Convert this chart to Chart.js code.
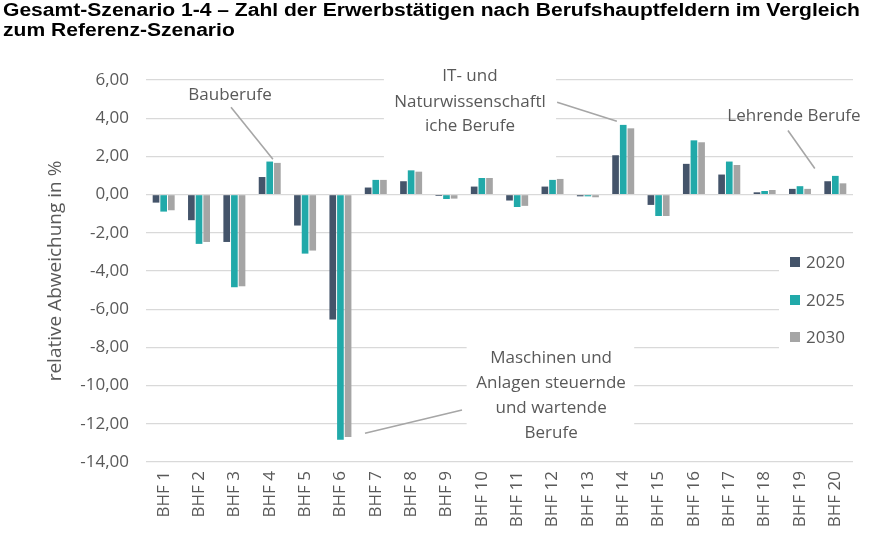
<!DOCTYPE html>
<html>
<head>
<meta charset="utf-8">
<script src="https://cdn.jsdelivr.net/npm/chart.js@4"></script>
<style>
  html, body { margin: 0; padding: 0; background: #fff; }
  #wrap { position: relative; width: 871px; height: 540px; overflow: hidden; }
  #title { position: absolute; left: 3px; top: 0px; font-family: "Liberation Sans", Arial, sans-serif; font-weight: bold; font-size: 18px; line-height: 20px; color: #000; white-space: nowrap; transform-origin: 0 0; z-index: 2; }
  canvas { position: absolute; left: 0; top: 0; }
</style>
</head>
<body>
<div id="wrap">
  <div id="title"><span id="t1">Gesamt-Szenario 1-4 – Zahl der Erwerbstätigen nach Berufshauptfeldern im Vergleich</span><br><span>zum Referenz-Szenario</span></div>
  <canvas id="c" width="871" height="540"></canvas>
</div>
<script>
// ---- data ----
const categories = ['BHF 1','BHF 2','BHF 3','BHF 4','BHF 5','BHF 6','BHF 7','BHF 8','BHF 9','BHF 10',
                    'BHF 11','BHF 12','BHF 13','BHF 14','BHF 15','BHF 16','BHF 17','BHF 18','BHF 19','BHF 20'];
const seriesNames = ['2020', '2025', '2030'];
const values2020 = [-0.42,-1.34,-2.48,0.92,-1.62,-6.54,0.37,0.70,-0.07,0.42,-0.31,0.42,-0.09,2.06,-0.54,1.61,1.05,0.12,0.30,0.70];
const values2025 = [-0.89,-2.58,-4.85,1.73,-3.09,-12.84,0.77,1.27,-0.23,0.87,-0.65,0.77,-0.09,3.65,-1.12,2.84,1.73,0.19,0.44,0.98];
const values2030 = [-0.82,-2.48,-4.80,1.66,-2.93,-12.69,0.77,1.20,-0.21,0.87,-0.59,0.82,-0.14,3.47,-1.12,2.74,1.55,0.24,0.30,0.59];
const yMin = -14, yMax = 6, yStep = 2;
const yAxisTitle = 'relative Abweichung in %';
const annotationTexts = [
  ['Bauberufe'],
  ['IT- und', 'Naturwissenschaftl', 'iche Berufe'],
  ['Lehrende Berufe'],
  ['Maschinen und', 'Anlagen steuernde', 'und wartende', 'Berufe']
];

// title fit
(function(){
  const t = document.getElementById('title');
  const w = document.getElementById('t1').getBoundingClientRect().width;
  t.style.transform = 'scaleX(' + (857 / w) + ')';
})();

const colors = ['#44546A', '#21A9A9', '#A5A5A5'];
const textColor = '#595959';
const FONT = '"Open Sans", "Noto Sans", sans-serif';

// annotation layout (category index / value space)
const annotations = [
  { lines: annotationTexts[0], cx: 1.876, cy: [5.2], from: [1.905, 4.57], to: [3.09, 1.85], size: 17 },
  { lines: annotationTexts[1], cx: 8.665, cy: [6.19, 4.83, 3.57], from: [11.13, 4.83], to: [12.82, 3.84], size: 17,
    mask: [6.23, 11.1, 7.2, 1.7] },
  { lines: annotationTexts[2], cx: 17.83, cy: [4.09], from: [17.66, 3.36], to: [18.42, 1.37], size: 17,
    mask: [16.65, 19.6, 4.7, 3.45] },
  { lines: annotationTexts[3], cx: 10.96, cy: [-8.57, -9.88, -11.18, -12.49], from: [8.44, -11.28], to: [5.695, -12.49], size: 17,
    mask: [8.57, 13.31, -7.6, -13.2] }
];

const overlayPlugin = {
  id: 'overlay',
  beforeDatasetsDraw(chart) {
    const ctx = chart.ctx, xs = chart.scales.x, ys = chart.scales.y, ca = chart.chartArea;
    ctx.save();
    ctx.fillStyle = '#fff';
    annotations.forEach(a => {
      if (!a.mask) return;
      const x1 = xs.getPixelForValue(a.mask[0]), x2 = xs.getPixelForValue(a.mask[1]);
      const y1 = ys.getPixelForValue(a.mask[2]), y2 = ys.getPixelForValue(a.mask[3]);
      ctx.fillRect(x1, y1, x2 - x1, y2 - y1);
    });
    // legend box mask
    ctx.fillRect(ca.right - 74, ca.top + 165, 80, 110);
    ctx.restore();
  },
  afterDatasetsDraw(chart) {
    const ctx = chart.ctx, xs = chart.scales.x, ys = chart.scales.y, ca = chart.chartArea;
    ctx.save();
    ctx.strokeStyle = '#A6A6A6';
    ctx.lineWidth = 1.6;
    annotations.forEach(a => {
      ctx.beginPath();
      ctx.moveTo(xs.getPixelForValue(a.from[0]), ys.getPixelForValue(a.from[1]));
      ctx.lineTo(xs.getPixelForValue(a.to[0]), ys.getPixelForValue(a.to[1]));
      ctx.stroke();
    });
    ctx.fillStyle = textColor;
    ctx.textAlign = 'center';
    ctx.textBaseline = 'middle';
    annotations.forEach(a => {
      ctx.font = a.size + 'px ' + FONT;
      a.lines.forEach((l, i) => {
        ctx.fillText(l, xs.getPixelForValue(a.cx), ys.getPixelForValue(a.cy[i]));
      });
    });
    // legend
    ctx.textAlign = 'left';
    ctx.font = '17px ' + FONT;
    const lx = ca.right - 63;
    const rows = [182, 220, 257];
    seriesNames.forEach((n, i) => {
      const yy = ca.top + rows[i];
      ctx.fillStyle = colors[i];
      ctx.fillRect(lx, yy - 5, 10, 10);
      ctx.fillStyle = textColor;
      ctx.fillText(n, lx + 16, yy + 1);
    });
    ctx.restore();
  }
};

const fmt = v => v.toFixed(2).replace('.', ',');

new Chart(document.getElementById('c'), {
  type: 'bar',
  data: {
    labels: categories,
    datasets: [values2020, values2025, values2030].map((d, i) => ({
      label: seriesNames[i],
      data: d,
      backgroundColor: colors[i],
      borderWidth: 0,
      categoryPercentage: 0.65,
      barPercentage: 0.87
    }))
  },
  options: {
    responsive: false,
    animation: false,
    devicePixelRatio: 1,
    layout: { padding: { left: 38, top: 80, right: 18, bottom: 0 } },
    plugins: { legend: { display: false }, tooltip: { enabled: false } },
    scales: {
      x: {
        grid: { display: false, drawTicks: false },
        border: { display: false },
        ticks: {
          color: textColor, font: { family: FONT, size: 17 },
          minRotation: 90, maxRotation: 90, autoSkip: false, padding: 9
        },
        afterFit(s) { s.height = 540 - 462; }
      },
      y: {
        min: yMin, max: yMax,
        grid: { color: '#D9D9D9', lineWidth: 1.2, drawTicks: false },
        border: { display: false },
        ticks: {
          stepSize: yStep, color: textColor, font: { family: FONT, size: 17 }, padding: 17,
          callback: v => fmt(v)
        },
        title: {
          display: true, text: yAxisTitle, color: textColor,
          font: { family: FONT, size: 19, weight: 'normal' }, padding: { top: 6, bottom: 0 }
        },
        afterFit(s) { s.width = 146 - 38; }
      }
    }
  },
  plugins: [overlayPlugin]
});
</script>
</body>
</html>
